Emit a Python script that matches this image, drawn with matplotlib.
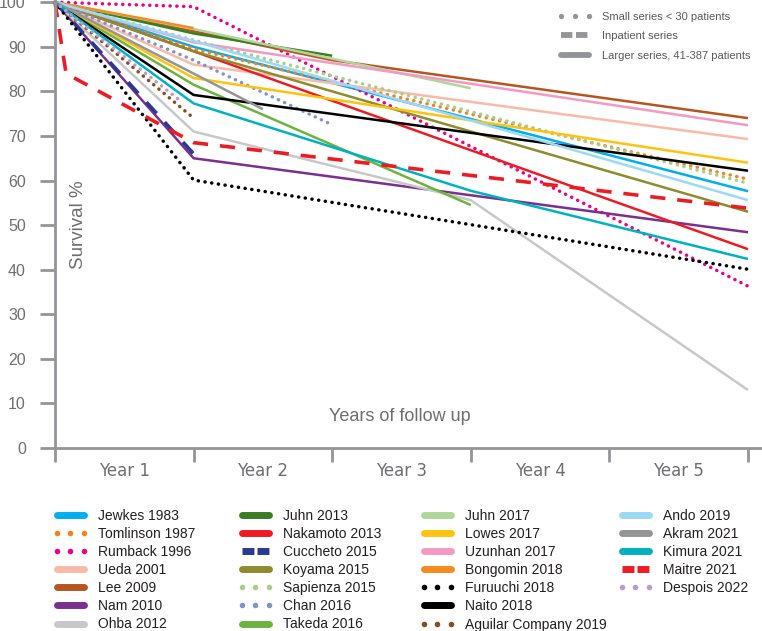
import numpy as np
import pandas as pd
import matplotlib
matplotlib.use('Agg')
import matplotlib.pyplot as plt
from matplotlib.lines import Line2D
from matplotlib.font_manager import FontProperties

nan = np.nan
years = [0, 1, 2, 3, 4, 5]
year_labels = ['Year 1', 'Year 2', 'Year 3', 'Year 4', 'Year 5']

# survival % at the start and at the end of each follow up year (nan = no point)
jewkes_1983 = [100, 90, nan, nan, nan, 57.6]
tomlinson_1987 = [100, 89.5, nan, nan, nan, 60.3]
rumback_1996 = [100, 99, nan, nan, nan, 36.3]
ueda_2001 = [100, 86, nan, nan, nan, 69.3]
lee_2009 = [100, nan, 87, nan, nan, 74]
nam_2010 = [100, 65, nan, nan, nan, 48.4]
ohba_2012 = [100, 71, nan, 55.6, nan, 13]
juhn_2013 = [100, 93, 88, nan, nan, nan]
nakamoto_2013 = [100, 89, nan, nan, nan, 44.6]
cuccheto_2015 = [100, 66, nan, nan, nan, nan]
koyama_2015 = [100, 89, nan, nan, nan, 53]
sapienza_2015 = [100, 91.5, nan, nan, nan, 59.4]
chan_2016 = [100, 87, 72.5, nan, nan, nan]
takeda_2016 = [100, 81.5, nan, 54.5, nan, nan]
juhn_2017 = [100, 94, nan, 80.7, nan, nan]
lowes_2017 = [100, 83, nan, nan, nan, 64]
uzunhan_2017 = [100, 91, nan, nan, nan, 72.4]
bongomin_2018 = [100, 94.2, nan, nan, nan, nan]
furuuchi_2018 = [100, 60.1, nan, nan, nan, 40.1]
naito_2018 = [100, 79.2, nan, nan, nan, 62.2]
aguilar_company_2019 = [100, 74, nan, nan, nan, nan]
ando_2019 = [100, 91.3, nan, nan, nan, 55.6]
kimura_2021 = [100, 77.3, nan, 57.7, nan, 42.4]

# these were reported at other time points
akram_years = [0, 1.5]
akram_2021 = [100, 76]
maitre_years = [0, 0.08, 1, 5]
maitre_2021 = [100, 84, 68.5, 53.8]
despois_years = [0, 0.9]
despois_2022 = [100, 78]

series = [
    ('Jewkes 1983', years, jewkes_1983, '#00AEEF', 'solid'),
    ('Tomlinson 1987', years, tomlinson_1987, '#F58220', 'dot'),
    ('Rumback 1996', years, rumback_1996, '#EC008C', 'dot'),
    ('Ueda 2001', years, ueda_2001, '#F9BBA8', 'solid'),
    ('Lee 2009', years, lee_2009, '#B6561F', 'solid'),
    ('Nam 2010', years, nam_2010, '#7B2F8E', 'solid'),
    ('Ohba 2012', years, ohba_2012, '#C7C8CA', 'solid'),
    ('Juhn 2013', years, juhn_2013, '#3A7D23', 'solid'),
    ('Nakamoto 2013', years, nakamoto_2013, '#ED1C24', 'solid'),
    ('Cuccheto 2015', years, cuccheto_2015, '#2B3990', 'dash'),
    ('Koyama 2015', years, koyama_2015, '#8E8C2C', 'solid'),
    ('Sapienza 2015', years, sapienza_2015, '#A8CF8A', 'dot'),
    ('Chan 2016', years, chan_2016, '#7F95CA', 'dot'),
    ('Takeda 2016', years, takeda_2016, '#6DB33F', 'solid'),
    ('Juhn 2017', years, juhn_2017, '#B1D59B', 'solid'),
    ('Lowes 2017', years, lowes_2017, '#FFC20E', 'solid'),
    ('Uzunhan 2017', years, uzunhan_2017, '#F49AC1', 'solid'),
    ('Bongomin 2018', years, bongomin_2018, '#F68B1F', 'solid'),
    ('Furuuchi 2018', years, furuuchi_2018, '#000000', 'dot'),
    ('Naito 2018', years, naito_2018, '#000000', 'solid'),
    ('Aguilar Company 2019', years, aguilar_company_2019, '#8B4A1B', 'dot'),
    ('Ando 2019', years, ando_2019, '#9CD9F5', 'solid'),
    ('Akram 2021', akram_years, akram_2021, '#939598', 'solid'),
    ('Kimura 2021', years, kimura_2021, '#00B2BF', 'solid'),
    ('Maitre 2021', maitre_years, maitre_2021, '#ED1C24', 'dash'),
    ('Despois 2022', despois_years, despois_2022, '#B79CD0', 'dot'),
]

axis_grey = '#939598'
text_grey = '#6D6E71'
W, H = 762, 631

line_kw = {
    'solid': dict(lw=1.8, solid_capstyle='butt'),
    'dot': dict(lw=2.5, ls=(0, (0.05, 1.9)), dash_capstyle='round'),
    'dash': dict(lw=2.6, ls=(0, (4.2, 3.3)), dash_capstyle='butt'),
}

fig = plt.figure(figsize=(W / 100, H / 100), dpi=100)
ax = fig.add_axes([55 / W, 1 - 448 / H, 707 / W, 448 / H])

for label, xs, ys, color, kind in series:
    s = pd.Series(ys, index=xs, dtype=float).dropna()
    ax.plot(s.index, s.values, color=color, clip_on=False, **line_kw[kind])

ax.set_xlim(0, 5 * 707 / 693)
ax.set_ylim(0, 100.5)
for side in ['top', 'right']:
    ax.spines[side].set_visible(False)
for side in ['left', 'bottom']:
    ax.spines[side].set_color(axis_grey)
    ax.spines[side].set_linewidth(2)

ax.set_yticks(range(0, 101, 10))
ax.tick_params(axis='y', direction='out', length=11, width=2, color=axis_grey,
               labelcolor=text_grey, labelsize=11.5, pad=10,
               labelfontfamily='Liberation Sans')
ax.set_xticks(years)
ax.set_xticklabels([])
ax.tick_params(axis='x', which='major', direction='out', length=10, width=2, color=axis_grey)
ax.set_xticks([y + 0.5 for y in years[:-1]], minor=True)
ax.set_xticklabels(year_labels, minor=True)
ax.tick_params(axis='x', which='minor', length=0, pad=10, labelcolor=text_grey,
               labelsize=12, labelfontfamily='Liberation Sans Narrow')

ax.text(0.166, 50, 'Survival %', rotation=90, ha='center', va='center',
        fontsize=13.5, color=text_grey, family=['Liberation Sans', 'DejaVu Sans'])
ax.text(2.49, 7, 'Years of follow up', ha='center', va='center',
        fontsize=13, color=text_grey, family=['Liberation Sans', 'DejaVu Sans'])


def handle(color, kind, lw=5, ms=4, dash=(8.6, 2.2)):
    if kind == 'dot':
        return Line2D([], [], color=color, ls='none', marker='o', ms=ms, mec='none')
    if kind == 'dash':
        return Line2D([], [], color=color, lw=lw, ls=(0, (dash[0] / lw, dash[1] / lw)),
                      dash_capstyle='butt')
    return Line2D([], [], color=color, lw=lw, solid_capstyle='round')


# key for line styles, top right
key_font = FontProperties(family=['Liberation Sans', 'DejaVu Sans'], size=8)
key_items = [('dot', 'Small series < 30 patients'), ('dash', 'Inpatient series'),
             ('solid', 'Larger series, 41-387 patients')]
leg = fig.legend([handle(axis_grey, k, lw=4.2, ms=3.8, dash=(8.2, 2.6)) for k, _ in key_items],
                 [t for _, t in key_items], loc='upper left',
                 bbox_to_anchor=(557.5 / W, 1 - 11.5 / H), frameon=False, borderpad=0,
                 borderaxespad=0, handlelength=3.1, handletextpad=0.95,
                 labelspacing=0.88, numpoints=3, prop=key_font)
for t in leg.get_texts():
    t.set_color('#58595B')

# study legend in four columns below the chart
leg_font = FontProperties(family=['Liberation Sans Narrow', 'Liberation Sans', 'DejaVu Sans'], size=10)
col_x = [52.8, 237.8, 419.8, 617.8]
for c, x0 in enumerate(col_x):
    part = series[c * 7:(c + 1) * 7]
    leg = fig.legend([handle(s[3], s[4]) for s in part], [s[0] for s in part],
                     loc='upper left', bbox_to_anchor=(x0 / W, 1 - 508.5 / H),
                     frameon=False, borderpad=0, borderaxespad=0, handlelength=2.54,
                     handletextpad=0.71, labelspacing=0.3, numpoints=3, prop=leg_font)
    for t in leg.get_texts():
        t.set_color('#231F20')

fig.savefig('out.png', dpi=100)
